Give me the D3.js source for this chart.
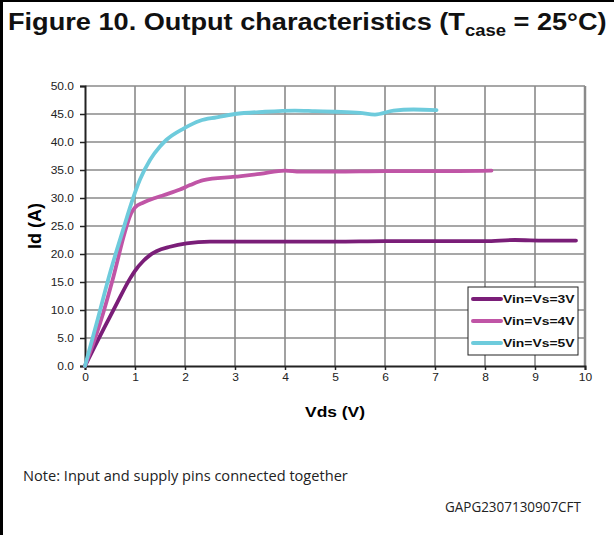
<!DOCTYPE html>
<html>
<head>
    <meta charset="utf-8">
    <title>Output characteristics</title>
    <script src="https://cdn.jsdelivr.net/npm/d3@7"></script>
    <style>
        body { margin: 0; background: #fff; }
        svg { display: block; }
        svg text { font-family: "Liberation Sans", Arial, sans-serif; }
        svg text.note { font-family: "Open Sans", sans-serif; }
    </style>
</head>
<body>
<svg width="614" height="535"></svg>
<script>
    // series: [Vds (V), Id (A)]
    var vin3 = [[0, 0], [0.2, 3.6], [0.43, 7.6], [0.65, 11.4], [0.9, 15.6], [1.0, 17], [1.17, 18.8], [1.3, 19.8], [1.43, 20.5],
        [1.7, 21.3], [2.03, 21.9], [2.5, 22.2], [3.0, 22.2], [4.0, 22.2], [5.0, 22.2], [6.0, 22.3], [7.0, 22.3],
        [8.0, 22.3], [8.6, 22.5], [9.2, 22.4], [9.82, 22.4]];
    var vin4 = [[0, 0], [0.3, 7.6], [0.57, 16], [0.8, 24], [0.92, 27.2], [1.0, 28.3], [1.17, 29.2], [1.4, 30], [1.57, 30.5],
        [1.9, 31.5], [2.1, 32.3], [2.37, 33.2], [3.0, 33.8], [3.5, 34.3], [4.0, 34.9], [4.3, 34.7], [5.0, 34.7],
        [6.0, 34.8], [7.0, 34.8], [8.13, 34.9]];
    var vin5 = [[0, 0], [0.25, 8.2], [0.5, 16.6], [0.75, 24], [0.97, 30.2], [1.1, 33.3], [1.3, 36.8], [1.5, 39.2],
        [1.63, 40.4], [1.97, 42.4], [2.3, 43.8], [2.63, 44.4], [3.0, 45], [3.6, 45.4], [4.2, 45.6], [4.6, 45.5],
        [5.0, 45.4], [5.5, 45.2], [5.8, 44.9], [6.17, 45.6], [6.57, 45.8], [7.03, 45.7]];

    var seriesNames = ["Vin=Vs=3V", "Vin=Vs=4V", "Vin=Vs=5V"];
    var seriesColors = ["#7a1e78", "#c055a6", "#6ecbdc"];
    var xTicks = d3.range(0, 11, 1);
    var yTicks = d3.range(0, 51, 5);

    var svg = d3.select("svg");
    var x = d3.scaleLinear().domain([0, 10]).range([85, 585]);
    var y = d3.scaleLinear().domain([0, 50]).range([366, 86]);

    // the source picture is a bit wider than tall, so text is stretched sideways
    function stretch(sel, k, ax, ay) {
        sel.attr("transform", "translate(" + ax + "," + ay + ") scale(" + k + ",1) translate(" + (-ax) + "," + (-ay) + ")");
    }
    function fitWidth(sel, w, ax, ay) {
        var n = sel.node().getBBox().width;
        stretch(sel, w / n, ax, ay);
    }

    // frame
    svg.append("line").attr("x1", 0).attr("x2", 614).attr("y1", 1).attr("y2", 1)
        .attr("stroke", "#000").attr("stroke-width", 2);
    svg.append("line").attr("x1", 1.5).attr("x2", 1.5).attr("y1", 0).attr("y2", 535)
        .attr("stroke", "#000").attr("stroke-width", 3);

    // title
    var title = svg.append("text").attr("x", 8).attr("y", 30)
        .attr("font-size", 23.5).attr("font-weight", "bold").attr("fill", "#111");
    title.append("tspan").text("Figure 10. Output characteristics (T");
    title.append("tspan").attr("font-size", 16).attr("dy", 6).text("case");
    title.append("tspan").attr("dy", -6).text(" = 25°C)");
    fitWidth(title, 599, 8, 30);

    // grid
    var grid = svg.append("g").attr("stroke", "#8a8a8a").attr("stroke-width", 1.6);
    grid.selectAll(".gx").data(xTicks.slice(1)).enter().append("line")
        .attr("x1", function (d) { return x(d); }).attr("x2", function (d) { return x(d); })
        .attr("y1", y(0)).attr("y2", y(50));
    grid.selectAll(".gy").data(yTicks.slice(1)).enter().append("line")
        .attr("x1", x(0)).attr("x2", x(10))
        .attr("y1", function (d) { return y(d); }).attr("y2", function (d) { return y(d); });
    svg.append("line").attr("x1", x(10)).attr("x2", x(10)).attr("y1", y(0)).attr("y2", y(50))
        .attr("stroke", "#8a8a8a").attr("stroke-width", 2.5);

    // axes
    var yAxis = svg.append("g").attr("transform", "translate(" + x(0) + ",0)")
        .call(d3.axisLeft(y).tickValues(yTicks).tickFormat(d3.format(".1f")).tickSize(5).tickPadding(6));
    var xAxis = svg.append("g").attr("transform", "translate(0," + y(0) + ")")
        .call(d3.axisBottom(x).tickValues(xTicks).tickSize(4).tickPadding(4));
    [xAxis, yAxis].forEach(function (a) {
        a.attr("font-family", null);
        a.select(".domain").attr("stroke", "#222").attr("stroke-width", 2);
        a.selectAll(".tick line").attr("stroke", "#222").attr("stroke-width", 1.5);
        a.selectAll(".tick text").attr("font-size", 10).attr("fill", "#222");
    });
    yAxis.selectAll(".tick text").each(function () {
        var t = d3.select(this);
        stretch(t, 1.2, +t.attr("x"), 0);
    });
    xAxis.selectAll(".tick text").each(function () {
        stretch(d3.select(this), 1.2, 0, 0);
    });

    // curves
    var line = d3.line().x(function (d) { return x(d[0]); }).y(function (d) { return y(d[1]); })
        .curve(d3.curveMonotoneX);
    [vin3, vin4, vin5].forEach(function (s, i) {
        svg.append("path").datum(s).attr("d", line).attr("fill", "none")
            .attr("stroke", seriesColors[i]).attr("stroke-width", 3.8).attr("stroke-linecap", "round")
            .attr("stroke-linejoin", "round");
    });

    // axis titles
    svg.append("text").attr("transform", "translate(41,226) rotate(-90)")
        .attr("text-anchor", "middle").attr("font-size", 18).attr("font-weight", "bold").text("Id (A)");
    var xt = svg.append("text").attr("x", 335).attr("y", 417)
        .attr("text-anchor", "middle").attr("font-size", 14.5).attr("font-weight", "bold").text("Vds (V)");
    stretch(xt, 1.2, 335, 417);

    // legend
    var lg = svg.append("g").attr("transform", "translate(468,287)");
    lg.append("rect").attr("width", 110).attr("height", 68).attr("fill", "#fff")
        .attr("stroke", "#222").attr("stroke-width", 1);
    seriesNames.forEach(function (n, i) {
        var ly = 12 + i * 22;
        lg.append("line").attr("x1", 5).attr("x2", 33).attr("y1", ly).attr("y2", ly)
            .attr("stroke", seriesColors[i]).attr("stroke-width", 4).attr("stroke-linecap", "round");
        var t = lg.append("text").attr("x", 35).attr("y", ly + 4).attr("font-size", 11.5).attr("font-weight", "bold")
            .attr("fill", "#111").text(n);
        fitWidth(t, 72, 35, ly + 4);
    });

    // notes
    var note = svg.append("text").attr("class", "note").attr("x", 23).attr("y", 481).attr("font-size", 14.5)
        .attr("fill", "#222").text("Note: Input and supply pins connected together");
    fitWidth(note, 325, 23, 481);
    var code = svg.append("text").attr("class", "note").attr("x", 445).attr("y", 512)
        .attr("font-size", 14.5).attr("fill", "#222").text("GAPG2307130907CFT");
    fitWidth(code, 136, 445, 512);
</script>
</body>
</html>
